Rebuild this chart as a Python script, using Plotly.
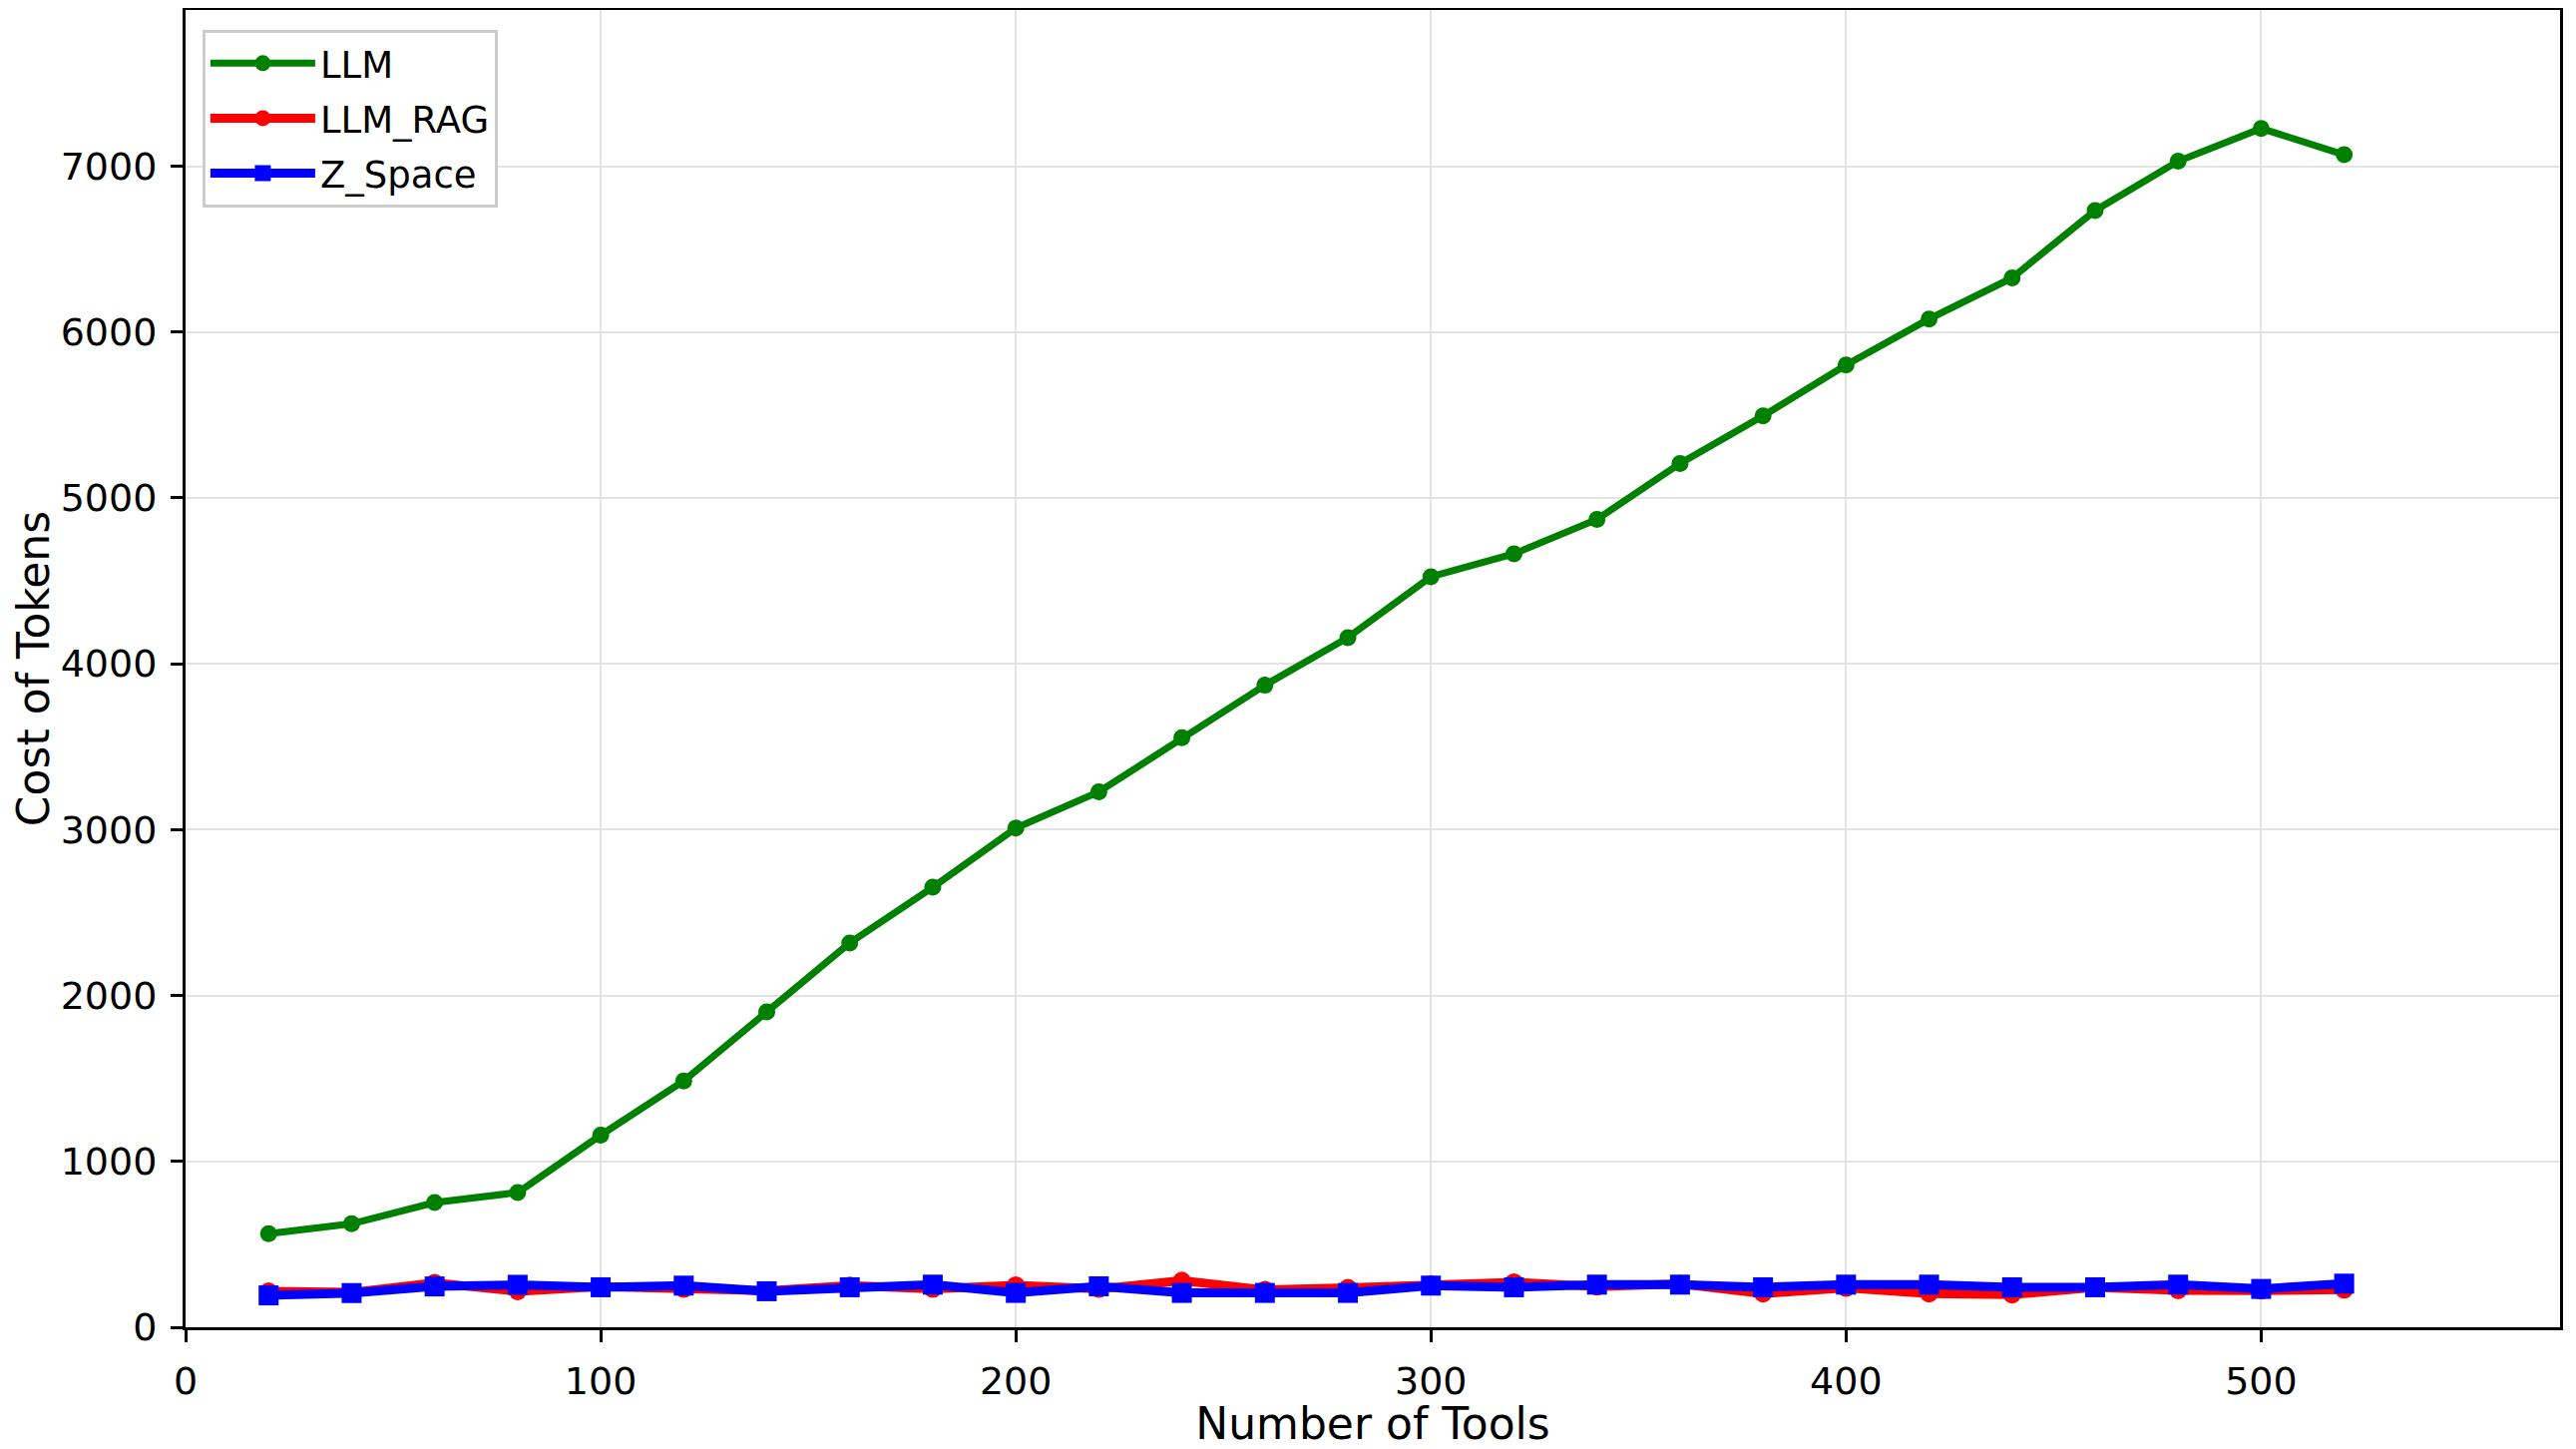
import plotly.graph_objects as go

# ── Data ─────────────────────────────────────────────────────────────────────
tools = [20, 40, 60, 80, 100, 120, 140, 160, 180, 200, 220, 240, 260,
         280, 300, 320, 340, 360, 380, 400, 420, 440, 460, 480, 500, 520]

llm = [564, 624, 752, 812, 1158, 1485, 1901, 2317, 2653, 3010, 3228, 3554, 3871,
       4158, 4525, 4663, 4871, 5208, 5495, 5802, 6079, 6327, 6733, 7030, 7228, 7069]

llm_rag = [216, 210, 268, 217, 245, 231, 220, 251, 231, 253, 231, 281, 225,
           237, 260, 271, 245, 262, 203, 237, 203, 197, 241, 223, 221, 227]

z_space = [192, 206, 246, 256, 241, 251, 217, 241, 257, 207, 247, 207, 207,
           207, 251, 241, 257, 257, 241, 257, 257, 241, 241, 257, 231, 263]

x_ticks = [0, 100, 200, 300, 400, 500]
y_ticks = [0, 1000, 2000, 3000, 4000, 5000, 6000, 7000]

FONT = "DejaVu Sans, Liberation Sans, sans-serif"

fig = go.Figure()

fig.add_trace(go.Scatter(
    x=tools, y=llm, mode="lines+markers", name="LLM", legendgroup="a",
    line=dict(color="#008000", width=7),
    marker=dict(symbol="circle", size=17, color="#008000"),
))
fig.add_trace(go.Scatter(
    x=tools, y=llm_rag, mode="lines+markers", name="LLM_RAG", legendgroup="b",
    line=dict(color="#ff0000", width=9),
    marker=dict(symbol="circle", size=18, color="#ff0000"),
))
fig.add_trace(go.Scatter(
    x=tools, y=z_space, mode="lines+markers", name="Z_Space", legendgroup="c",
    line=dict(color="#0000ff", width=9),
    marker=dict(symbol="square", size=20, color="#0000ff"),
))

axis_common = dict(
    showline=True, linecolor="black", linewidth=3, mirror=True,
    ticks="outside", ticklen=12, tickwidth=2.5, tickcolor="black",
    showgrid=True, gridcolor="#e3e3e3", gridwidth=2,
    zeroline=False, automargin=False,
    tickfont=dict(family=FONT, size=38, color="black"),
    ticklabelstandoff=6,
)

# the page body adds an 8 px margin, so the figure is 8 px smaller each way
fig.update_layout(
    width=2574, height=1444,
    margin=dict(l=178, r=16, t=2, b=122),
    plot_bgcolor="white", paper_bgcolor="white",
    font=dict(family=FONT, color="black"),
    xaxis=dict(
        **axis_common,
        range=[0, 572],
        tickvals=x_ticks,
        title=dict(text="Number of Tools", font=dict(family=FONT, size=44), standoff=4),
    ),
    yaxis=dict(
        **axis_common,
        range=[0, 7942],
        tickvals=y_ticks,
        title=dict(text="Cost of Tokens", font=dict(family=FONT, size=44), standoff=14),
    ),
    legend=dict(
        x=0.0071, y=0.985, xanchor="left", yanchor="top",
        bgcolor="white", bordercolor="#cccccc", borderwidth=3,
        font=dict(family=FONT, size=37, color="black"),
        itemwidth=105, tracegroupgap=4,
    ),
    showlegend=True,
)

# dark strip along the right edge of the reference screenshot
fig.add_shape(
    type="rect", xref="paper", yref="paper",
    x0=1.0046, x1=1.02, y0=-0.2, y1=1.2,
    fillcolor="#1a1a1a", line=dict(width=0), layer="above",
)

fig.write_html("out.html")
